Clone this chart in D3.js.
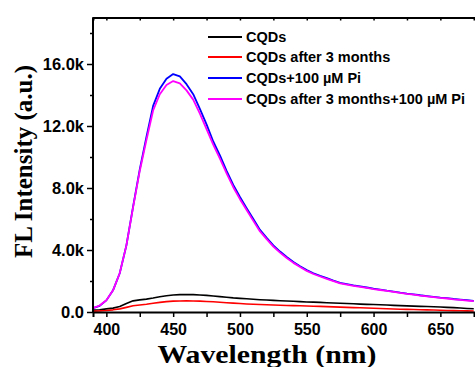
<!DOCTYPE html>
<html><head><meta charset="utf-8">
<script src="https://cdn.jsdelivr.net/npm/d3@7"></script>
<style>body{margin:0;background:#fff}svg{display:block}</style>
</head><body><svg id="c" width="475" height="367"></svg>
<script>
const wavelengths = [390,395,400,405,410,415,420,425,430,435,440,445,450,455,460,465,470,475,480,485,490,495,500,505,510,515,520,525,530,535,540,545,550,555,560,565,570,575,580,585,590,595,600,605,610,615,620,625,630,635,640,645,650,655,660,665,670,675];
const cqds = [120,150,200,250,350,550,720,780,830,900,980,1050,1100,1120,1130,1120,1100,1070,1030,990,950,910,880,850,820,795,770,750,730,710,690,670,650,635,620,600,580,565,550,530,510,495,480,465,450,430,410,395,380,365,350,335,320,300,280,255,230,210];
const cqds3m = [50,70,100,140,200,300,400,450,500,560,620,670,700,710,715,710,700,680,660,630,600,570,545,520,500,480,465,450,435,420,410,400,390,375,360,345,330,315,300,285,270,255,240,225,210,195,180,170,160,145,135,125,110,100,90,80,70,65];
const cqdsPi = [250,400,750,1400,2500,4300,6800,9200,11300,13300,14400,15050,15350,15200,14700,14050,13100,12100,11000,10100,9100,8200,7420,6700,6000,5300,4780,4300,3900,3550,3230,2950,2700,2500,2330,2180,2020,1880,1800,1720,1650,1580,1510,1450,1380,1320,1250,1190,1140,1080,1030,980,930,890,840,800,760,720];
const cqds3mPi = [250,420,760,1400,2500,4300,6750,9100,11100,13000,14050,14650,14900,14750,14300,13700,12800,11800,10800,9900,8950,8050,7280,6580,5880,5200,4700,4220,3830,3480,3170,2900,2650,2450,2290,2140,1990,1850,1770,1690,1620,1550,1480,1420,1360,1300,1230,1170,1120,1060,1010,960,910,870,820,780,740,700];
const seriesNames = ["CQDs","CQDs after 3 months","CQDs+100 \u00B5M Pi","CQDs after 3 months+100 \u00B5M Pi"];
const seriesColors = ["#000000","#ff0000","#0000ff","#ff00ff"];
const xTicks = [400,450,500,550,600,650];
const yTicks = [0,4000,8000,12000,16000];
const yTickLabels = ["0.0","4.0k","8.0k","12.0k","16.0k"];

const svg = d3.select("#c");
const L = 93, T = 17.5, B = 312;
const x = d3.scaleLinear().domain([390, 680]).range([L, L + 290*1.336]);
const y = d3.scaleLinear().domain([0, 19000]).range([B, T]);

const allSeries = [cqds, cqds3m, cqdsPi, cqds3mPi];
const line = d3.line().x((d,i)=>x(wavelengths[i])).y(d=>y(d));
[0,1,2,3].forEach(k=>{
  svg.append("path").datum(allSeries[k]).attr("d", line)
    .attr("fill","none").attr("stroke", seriesColors[k])
    .attr("stroke-width", k>=2 ? 1.8 : 1.6).attr("stroke-linejoin","round");
});

const font = "Arial, 'Liberation Sans', sans-serif";
svg.append("g").attr("transform",`translate(0,${B})`)
  .call(d3.axisBottom(x).tickValues(d3.range(400,680,25)).tickSize(5).tickFormat(""));
const gxl = svg.append("g").attr("transform",`translate(0,${B})`)
  .call(d3.axisBottom(x).tickValues(xTicks).tickSize(5).tickPadding(7).tickFormat(d3.format("d")));
gxl.select(".domain").remove();
gxl.selectAll("line").remove();
gxl.selectAll("text").attr("font-family",font).attr("font-weight","bold").attr("font-size","16px").attr("fill","#000");

svg.append("g").attr("transform",`translate(0,${T})`)
  .call(d3.axisTop(x).tickValues(d3.range(400,680,25)).tickSize(-3).tickFormat(""));

const gyMinor = svg.append("g").attr("transform",`translate(${L},0)`)
  .call(d3.axisLeft(y).tickValues([2000,6000,10000,14000,18000]).tickSize(3).tickFormat(""));
gyMinor.select(".domain").remove();
const gy = svg.append("g").attr("transform",`translate(${L},0)`)
  .call(d3.axisLeft(y).tickValues(yTicks).tickSize(6).tickPadding(3).tickFormat((d,i)=>yTickLabels[i]));
gy.selectAll("text").attr("font-family",font).attr("font-weight","bold").attr("font-size","16.5px").attr("fill","#000");

svg.selectAll(".domain").attr("stroke","#000").attr("stroke-width",2);
svg.selectAll(".tick line").attr("stroke","#000").attr("stroke-width",1.5);
gy.select(".domain").attr("d",`M0,${B}V${T}`);

const serif = "'Times New Roman','Liberation Serif',serif";
svg.append("text").attr("x",267).attr("y",363).attr("text-anchor","middle")
  .attr("font-family",serif).attr("font-weight","bold")
  .attr("font-size","25px").attr("textLength",219).attr("lengthAdjust","spacingAndGlyphs")
  .text("Wavelength (nm)");
svg.append("text").attr("transform","translate(32,161.5) rotate(-90)").attr("text-anchor","middle")
  .attr("font-family",serif).attr("font-weight","bold")
  .attr("font-size","25px").attr("textLength",193).attr("lengthAdjust","spacingAndGlyphs")
  .text("FL Intensity (a.u.)");

const legY = [37, 57, 78, 99];
seriesNames.forEach((n,i)=>{
  svg.append("line").attr("x1",208).attr("x2",242).attr("y1",legY[i]).attr("y2",legY[i])
    .attr("stroke",seriesColors[i]).attr("stroke-width",2);
  svg.append("text").attr("x",246).attr("y",legY[i]+5).attr("font-family",font)
    .attr("font-weight","bold").attr("font-size","14.5px").text(n);
});
</script></body></html>
